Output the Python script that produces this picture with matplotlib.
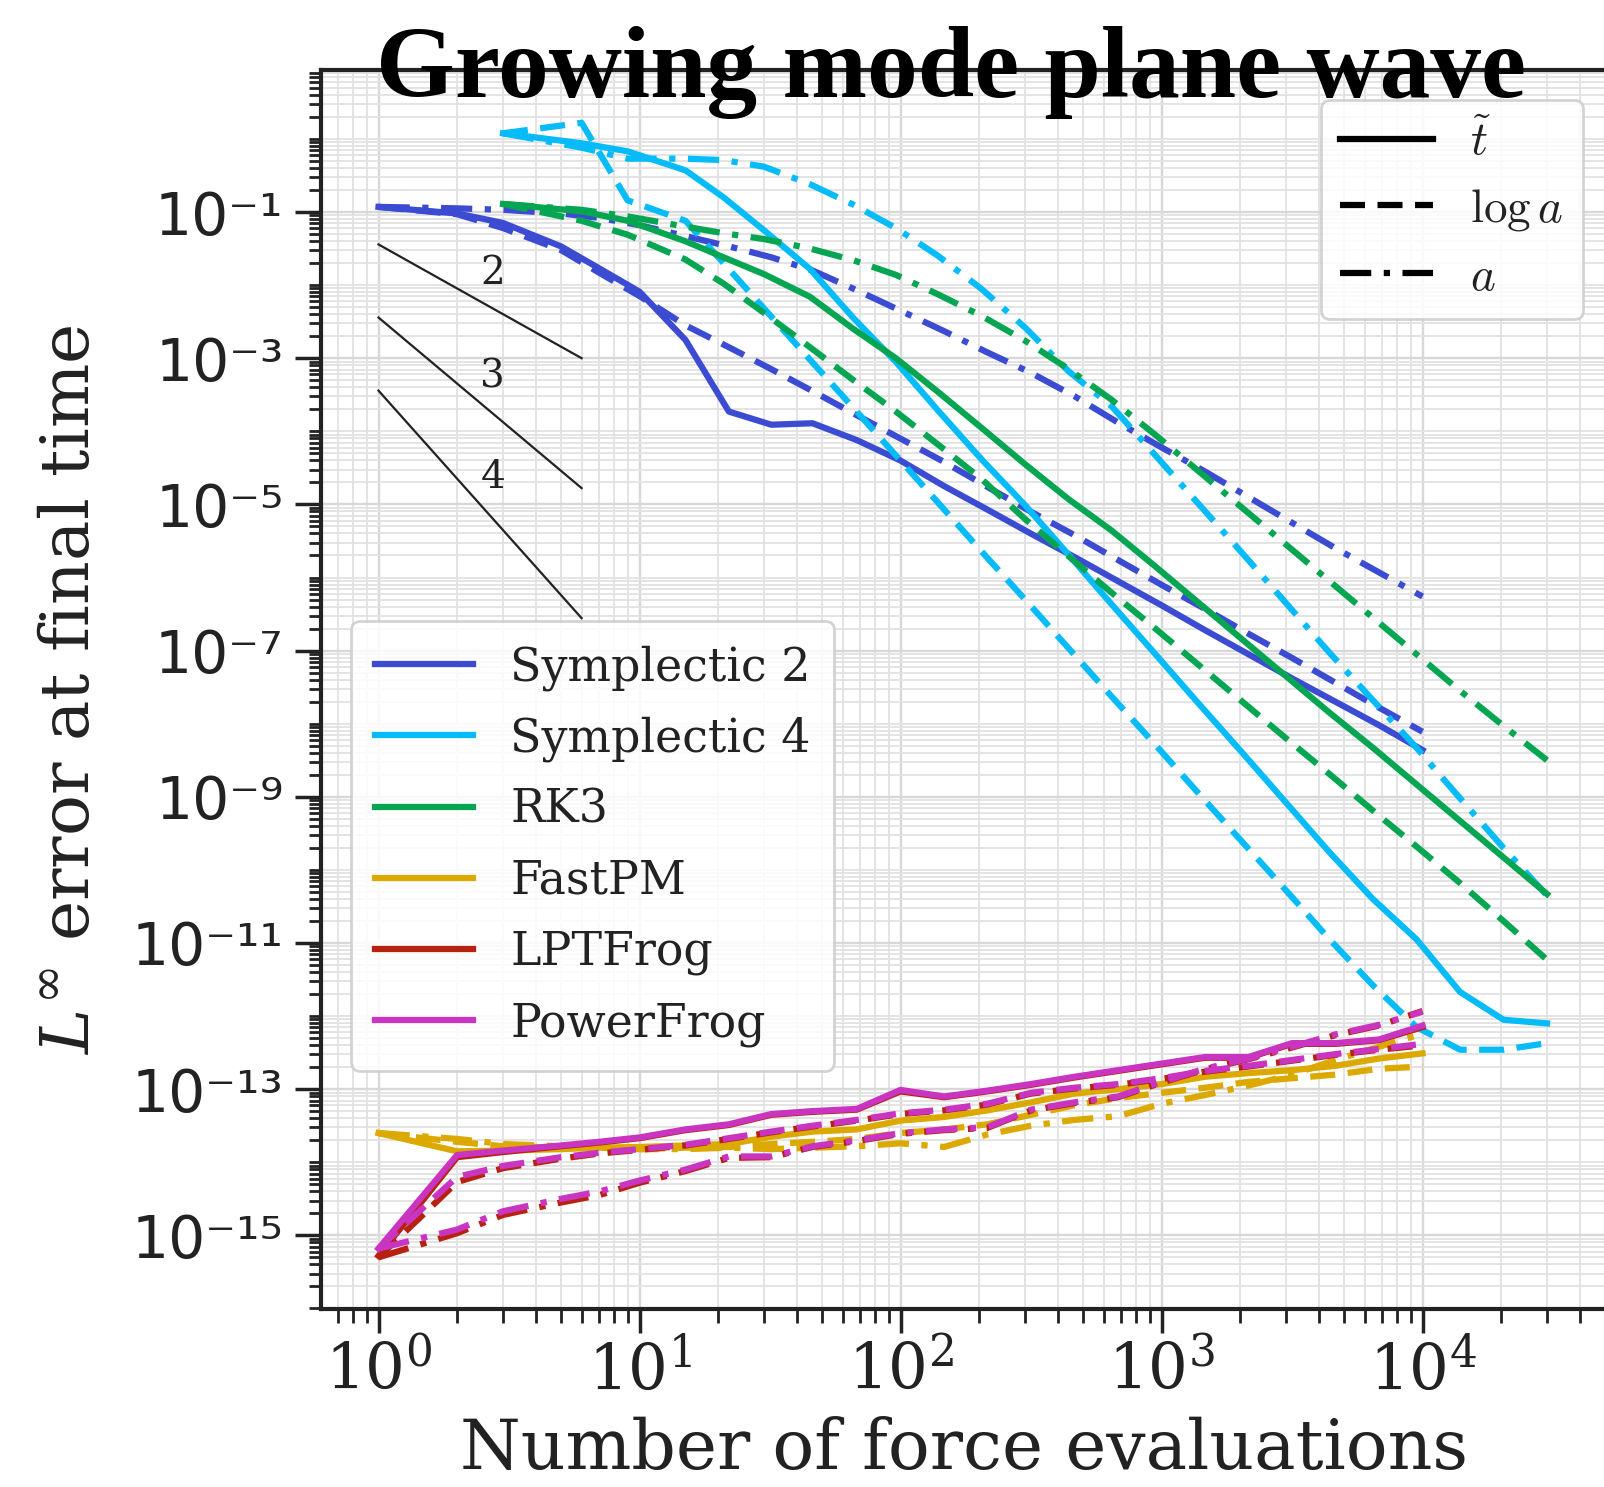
import numpy as np
import matplotlib
matplotlib.use("Agg")
import matplotlib.pyplot as plt
from matplotlib.lines import Line2D
from matplotlib.ticker import FixedLocator, NullFormatter

plt.rcParams['font.family'] = 'DejaVu Serif'
plt.rcParams['mathtext.fontset'] = 'dejavuserif'

# number of force evaluations (1 per step for the frog-type schemes, 3 per step for Symplectic 4 / RK3)
steps = [1, 2, 3, 5, 7, 10, 15, 22, 32, 46, 68, 100, 147, 215, 316, 464, 681,
         1000, 1468, 2154, 3162, 4642, 6813, 10000]
evals3 = [3, 6, 9, 15, 21, 30, 45, 66, 96, 138, 204, 300, 441, 645, 948, 1392,
          2043, 3000, 4404, 6462, 9486, 13926, 20439, 30000]

# log10 of the L-infinity error at final time; suffix = time variable (t~, log a, a)
sym2_t = [-0.93, -1.02, -1.15, -1.47, -1.77, -2.09, -2.75, -3.73, -3.91, -3.89, -4.12, -4.40,
          -4.75, -5.07, -5.40, -5.72, -6.05, -6.38, -6.72, -7.05, -7.38, -7.70, -8.02, -8.36]
sym2_loga = [-0.93, -1.03, -1.22, -1.52, -1.83, -2.15, -2.55, -2.85, -3.15, -3.45, -3.78, -4.10,
             -4.42, -4.76, -5.10, -5.42, -5.76, -6.10, -6.43, -6.77, -7.10, -7.44, -7.78, -8.11]
sym2_a = [-0.93, -0.95, -0.97, -1.02, -1.08, -1.18, -1.33, -1.47, -1.62, -1.80, -2.07, -2.35,
          -2.63, -2.92, -3.20, -3.52, -3.88, -4.22, -4.55, -4.90, -5.25, -5.60, -5.93, -6.26]

sym4_t = [0.077, -0.06, -0.17, -0.43, -0.80, -1.25, -1.78, -2.45, -3.05, -3.70, -4.38, -5.01,
          -5.69, -6.37, -7.05, -7.73, -8.40, -9.08, -9.76, -10.40, -10.95, -11.67, -12.05, -12.10]
sym4_loga = [0.077, 0.22, -0.84, -1.12, -1.70, -2.32, -3.02, -3.68, -4.33, -4.96, -5.64, -6.30,
             -6.97, -7.63, -8.29, -8.96, -9.62, -10.28, -10.95, -11.58, -12.15, -12.46, -12.46, -12.37]
sym4_a = [0.077, -0.12, -0.27, -0.27, -0.29, -0.38, -0.62, -0.90, -1.22, -1.59, -2.05, -2.58,
          -3.18, -3.66, -4.33, -5.00, -5.67, -6.35, -7.03, -7.68, -8.33, -9.02, -9.70, -10.35]

rk3_t = [-0.89, -0.99, -1.12, -1.40, -1.62, -1.85, -2.16, -2.60, -3.00, -3.45, -3.95, -4.45,
         -4.93, -5.36, -5.85, -6.35, -6.85, -7.35, -7.85, -8.33, -8.83, -9.33, -9.83, -10.33]
rk3_loga = [-0.89, -1.12, -1.31, -1.65, -1.98, -2.38, -2.85, -3.30, -3.73, -4.17, -4.65, -5.20,
            -5.71, -6.21, -6.70, -7.20, -7.70, -8.20, -8.69, -9.19, -9.68, -10.18, -10.70, -11.23]
rk3_a = [-0.89, -0.97, -1.06, -1.20, -1.29, -1.37, -1.50, -1.66, -1.86, -2.12, -2.42, -2.76,
         -3.15, -3.57, -4.05, -4.55, -5.05, -5.55, -6.05, -6.55, -7.05, -7.55, -8.03, -8.50]

fastpm_t = [-13.60, -13.85, -13.84, -13.82, -13.80, -13.79, -13.77, -13.75, -13.65, -13.58, -13.55, -13.43,
            -13.38, -13.29, -13.18, -13.06, -13.00, -12.93, -12.83, -12.78, -12.74, -12.68, -12.58, -12.51]
fastpm_loga = [-13.60, -13.72, -13.78, -13.80, -13.80, -13.82, -13.80, -13.79, -13.75, -13.72, -13.68, -13.60,
               -13.55, -13.48, -13.35, -13.22, -13.12, -13.05, -12.98, -12.90, -12.85, -12.80, -12.72, -12.69]
fastpm_a = [-13.60, -13.68, -13.75, -13.78, -13.80, -13.82, -13.82, -13.80, -13.82, -13.80, -13.78, -13.74,
            -13.79, -13.62, -13.50, -13.42, -13.37, -13.20, -13.08, -12.95, -12.80, -12.60, -12.42, -12.24]

lptfrog_t = [-15.28, -13.93, -13.86, -13.78, -13.73, -13.67, -13.56, -13.49, -13.35, -13.31, -13.28, -13.03,
             -13.11, -13.03, -12.94, -12.84, -12.75, -12.66, -12.57, -12.57, -12.38, -12.38, -12.33, -12.15]
lptfrog_loga = [-15.30, -14.27, -14.08, -13.95, -13.88, -13.83, -13.77, -13.68, -13.59, -13.51, -13.43, -13.34,
                -13.29, -13.21, -13.06, -12.99, -12.94, -12.86, -12.76, -12.69, -12.61, -12.53, -12.46, -12.40]
lptfrog_a = [-15.30, -14.97, -14.72, -14.55, -14.45, -14.28, -14.12, -13.94, -13.93, -13.79, -13.71, -13.61,
             -13.56, -13.53, -13.29, -13.19, -13.11, -12.91, -12.73, -12.59, -12.43, -12.26, -12.13, -11.93]

powerfrog_t = [-15.18, -13.90, -13.84, -13.77, -13.72, -13.66, -13.55, -13.48, -13.34, -13.30, -13.27, -13.01,
               -13.10, -13.02, -12.93, -12.83, -12.74, -12.65, -12.56, -12.56, -12.37, -12.37, -12.32, -12.13]
powerfrog_loga = [-15.18, -14.20, -14.05, -13.93, -13.87, -13.82, -13.76, -13.67, -13.58, -13.50, -13.42, -13.33,
                  -13.28, -13.20, -13.05, -12.98, -12.93, -12.85, -12.75, -12.68, -12.60, -12.52, -12.45, -12.38]
powerfrog_a = [-15.18, -14.92, -14.67, -14.50, -14.40, -14.25, -14.10, -13.92, -13.92, -13.78, -13.70, -13.60,
               -13.55, -13.52, -13.28, -13.18, -13.10, -12.90, -12.72, -12.58, -12.42, -12.25, -12.12, -11.94]

method_names = ['Symplectic 2', 'Symplectic 4', 'RK3', 'FastPM', 'LPTFrog', 'PowerFrog']
method_colors = ['#3b4cd3', '#05bcf8', '#05a552', '#dba900', '#b8200f', '#c934c1']
method_x = [steps, evals3, evals3, steps, steps, steps]
method_err = [
    (sym2_t, sym2_loga, sym2_a),
    (sym4_t, sym4_loga, sym4_a),
    (rk3_t, rk3_loga, rk3_a),
    (fastpm_t, fastpm_loga, fastpm_a),
    (lptfrog_t, lptfrog_loga, lptfrog_a),
    (powerfrog_t, powerfrog_loga, powerfrog_a),
]
time_labels = [r'$\tilde{t}$', r'$\log a$', r'$a$']
time_styles = ['-', (0, (4, 2)), (0, (5, 2, 1, 2))]

# reference slopes 2, 3, 4 drawn between 1 and 6 evaluations
ref_x = [1, 6]
ref_orders = ['2', '3', '4']
ref_y = [[3.6e-2, 1.0e-3], [3.6e-3, 1.67e-5], [3.6e-4, 2.78e-7]]
ref_label_y = [1.42e-2, 5.6e-4, 2.3e-5]

SUP = str.maketrans('-0123456789', '⁻⁰¹²³⁴⁵⁶⁷⁸⁹')

W, H = 1604, 1487
fig = plt.figure(figsize=(W / 100, H / 100), dpi=100)
ax_l, ax_r, ax_t, ax_b = 321, 1612, 70, 1309
ax = fig.add_axes([ax_l / W, 1 - ax_b / H, (ax_r - ax_l) / W, (ax_b - ax_t) / H])
ax.set_xscale('log')
ax.set_yscale('log')

LW = 4.5
for name, col, xs, errs in zip(method_names, method_colors, method_x, method_err):
    for e, ls in zip(errs, time_styles):
        ax.plot(xs, 10.0 ** np.array(e), color=col, lw=LW, ls=ls)

for ys, lab, ly in zip(ref_y, ref_orders, ref_label_y):
    ax.plot(ref_x, ys, color='#222222', lw=1.6)
    ax.text(2.74, ly, lab, ha='center', va='center', fontsize=28, color='#222222')

# axis ranges follow the pixel layout of the frame
ax.set_xlim(10 ** ((ax_l - 378.5) / 261), 10 ** ((ax_r - 378.5) / 261))
ax.set_ylim(10 ** (-1 - (ax_b - 212) / 73.1), 10 ** (-1 + (212 - ax_t) / 73.1))

xt = [1, 10, 100, 1000, 10000]
ax.xaxis.set_major_locator(FixedLocator(xt))
ax.xaxis.set_minor_locator(FixedLocator([m * 10.0 ** k for k in range(-1, 5) for m in range(2, 10)]))
ax.set_xticks(xt, [r'$10^{%d}$' % k for k in range(5)])
ax.xaxis.set_minor_formatter(NullFormatter())

yexp = list(range(-15, 0, 2))
ax.set_yticks([10.0 ** k for k in yexp])
ax.set_yticklabels(['10' + str(k).translate(SUP) for k in yexp], fontfamily='DejaVu Sans', fontsize=42)
yminor = [m * 10.0 ** k for k in range(-17, 1) for m in range(1, 10) if not (m == 1 and k in yexp)]
ax.yaxis.set_minor_locator(FixedLocator(yminor))
ax.yaxis.set_minor_formatter(NullFormatter())

ax.tick_params(axis='x', which='major', labelsize=45, length=17, width=2.5, pad=6, color='#222222', labelcolor='#222222')
ax.tick_params(axis='x', which='minor', length=10, width=2.0, color='#222222')
ax.tick_params(axis='y', which='major', length=19, width=2.5, pad=8, color='#222222', labelcolor='#222222')
ax.tick_params(axis='y', which='minor', length=9, width=2.0, color='#222222')

ax.grid(which='major', color='#d8d8d8', lw=1.7)
ax.grid(which='minor', color='#e2e2e2', lw=1.3)
ax.set_axisbelow(True)
for s in ax.spines.values():
    s.set_linewidth(3)
    s.set_color('#222222')

method_handles = [Line2D([], [], color=c, lw=LW) for c in method_colors]
leg1 = ax.legend(method_handles, method_names, loc='upper left',
                 bbox_to_anchor=((351 - ax_l) / (ax_r - ax_l), 1 - (621 - ax_t) / (ax_b - ax_t)),
                 borderaxespad=0, fontsize=33, handlelength=2.15, handletextpad=0.8,
                 labelspacing=0.56, borderpad=0.52, framealpha=0.85, edgecolor='#cccccc',
                 fancybox=True)
leg1.get_frame().set_linewidth(2)
for t in leg1.get_texts():
    t.set_color('#222222')
ax.add_artist(leg1)

time_handles = [Line2D([], [], color='black', lw=LW, ls=s) for s in time_styles]
leg2 = ax.legend(time_handles, time_labels, loc='upper right',
                 bbox_to_anchor=(1 - (ax_r - 1583) / (ax_r - ax_l), 1 - (100 - ax_t) / (ax_b - ax_t)),
                 borderaxespad=0, fontsize=34, handlelength=1.95, handletextpad=0.8,
                 labelspacing=0.45, borderpad=0.42, framealpha=0.85, edgecolor='#cccccc',
                 fancybox=True)
leg2.get_frame().set_linewidth(2)
for t in leg2.get_texts():
    t.set_math_fontfamily('cm')
    t.set_color('#222222')

fig.text(964 / W, 1 - 1469 / H, 'Number of force evaluations', ha='center', va='baseline',
         fontsize=50, color='#222222')
fig.text(70 / W, 1 - 690 / H, r'$L^\infty$ error at final time', ha='center', va='center',
         rotation=90, fontsize=49, color='#222222')
fig.text(951 / W, 1 - 97 / H, 'Growing mode plane wave', ha='center', va='baseline',
         fontfamily='Liberation Serif', fontweight='bold', fontsize=73, color='black')

fig.savefig('out.png', dpi=100)
